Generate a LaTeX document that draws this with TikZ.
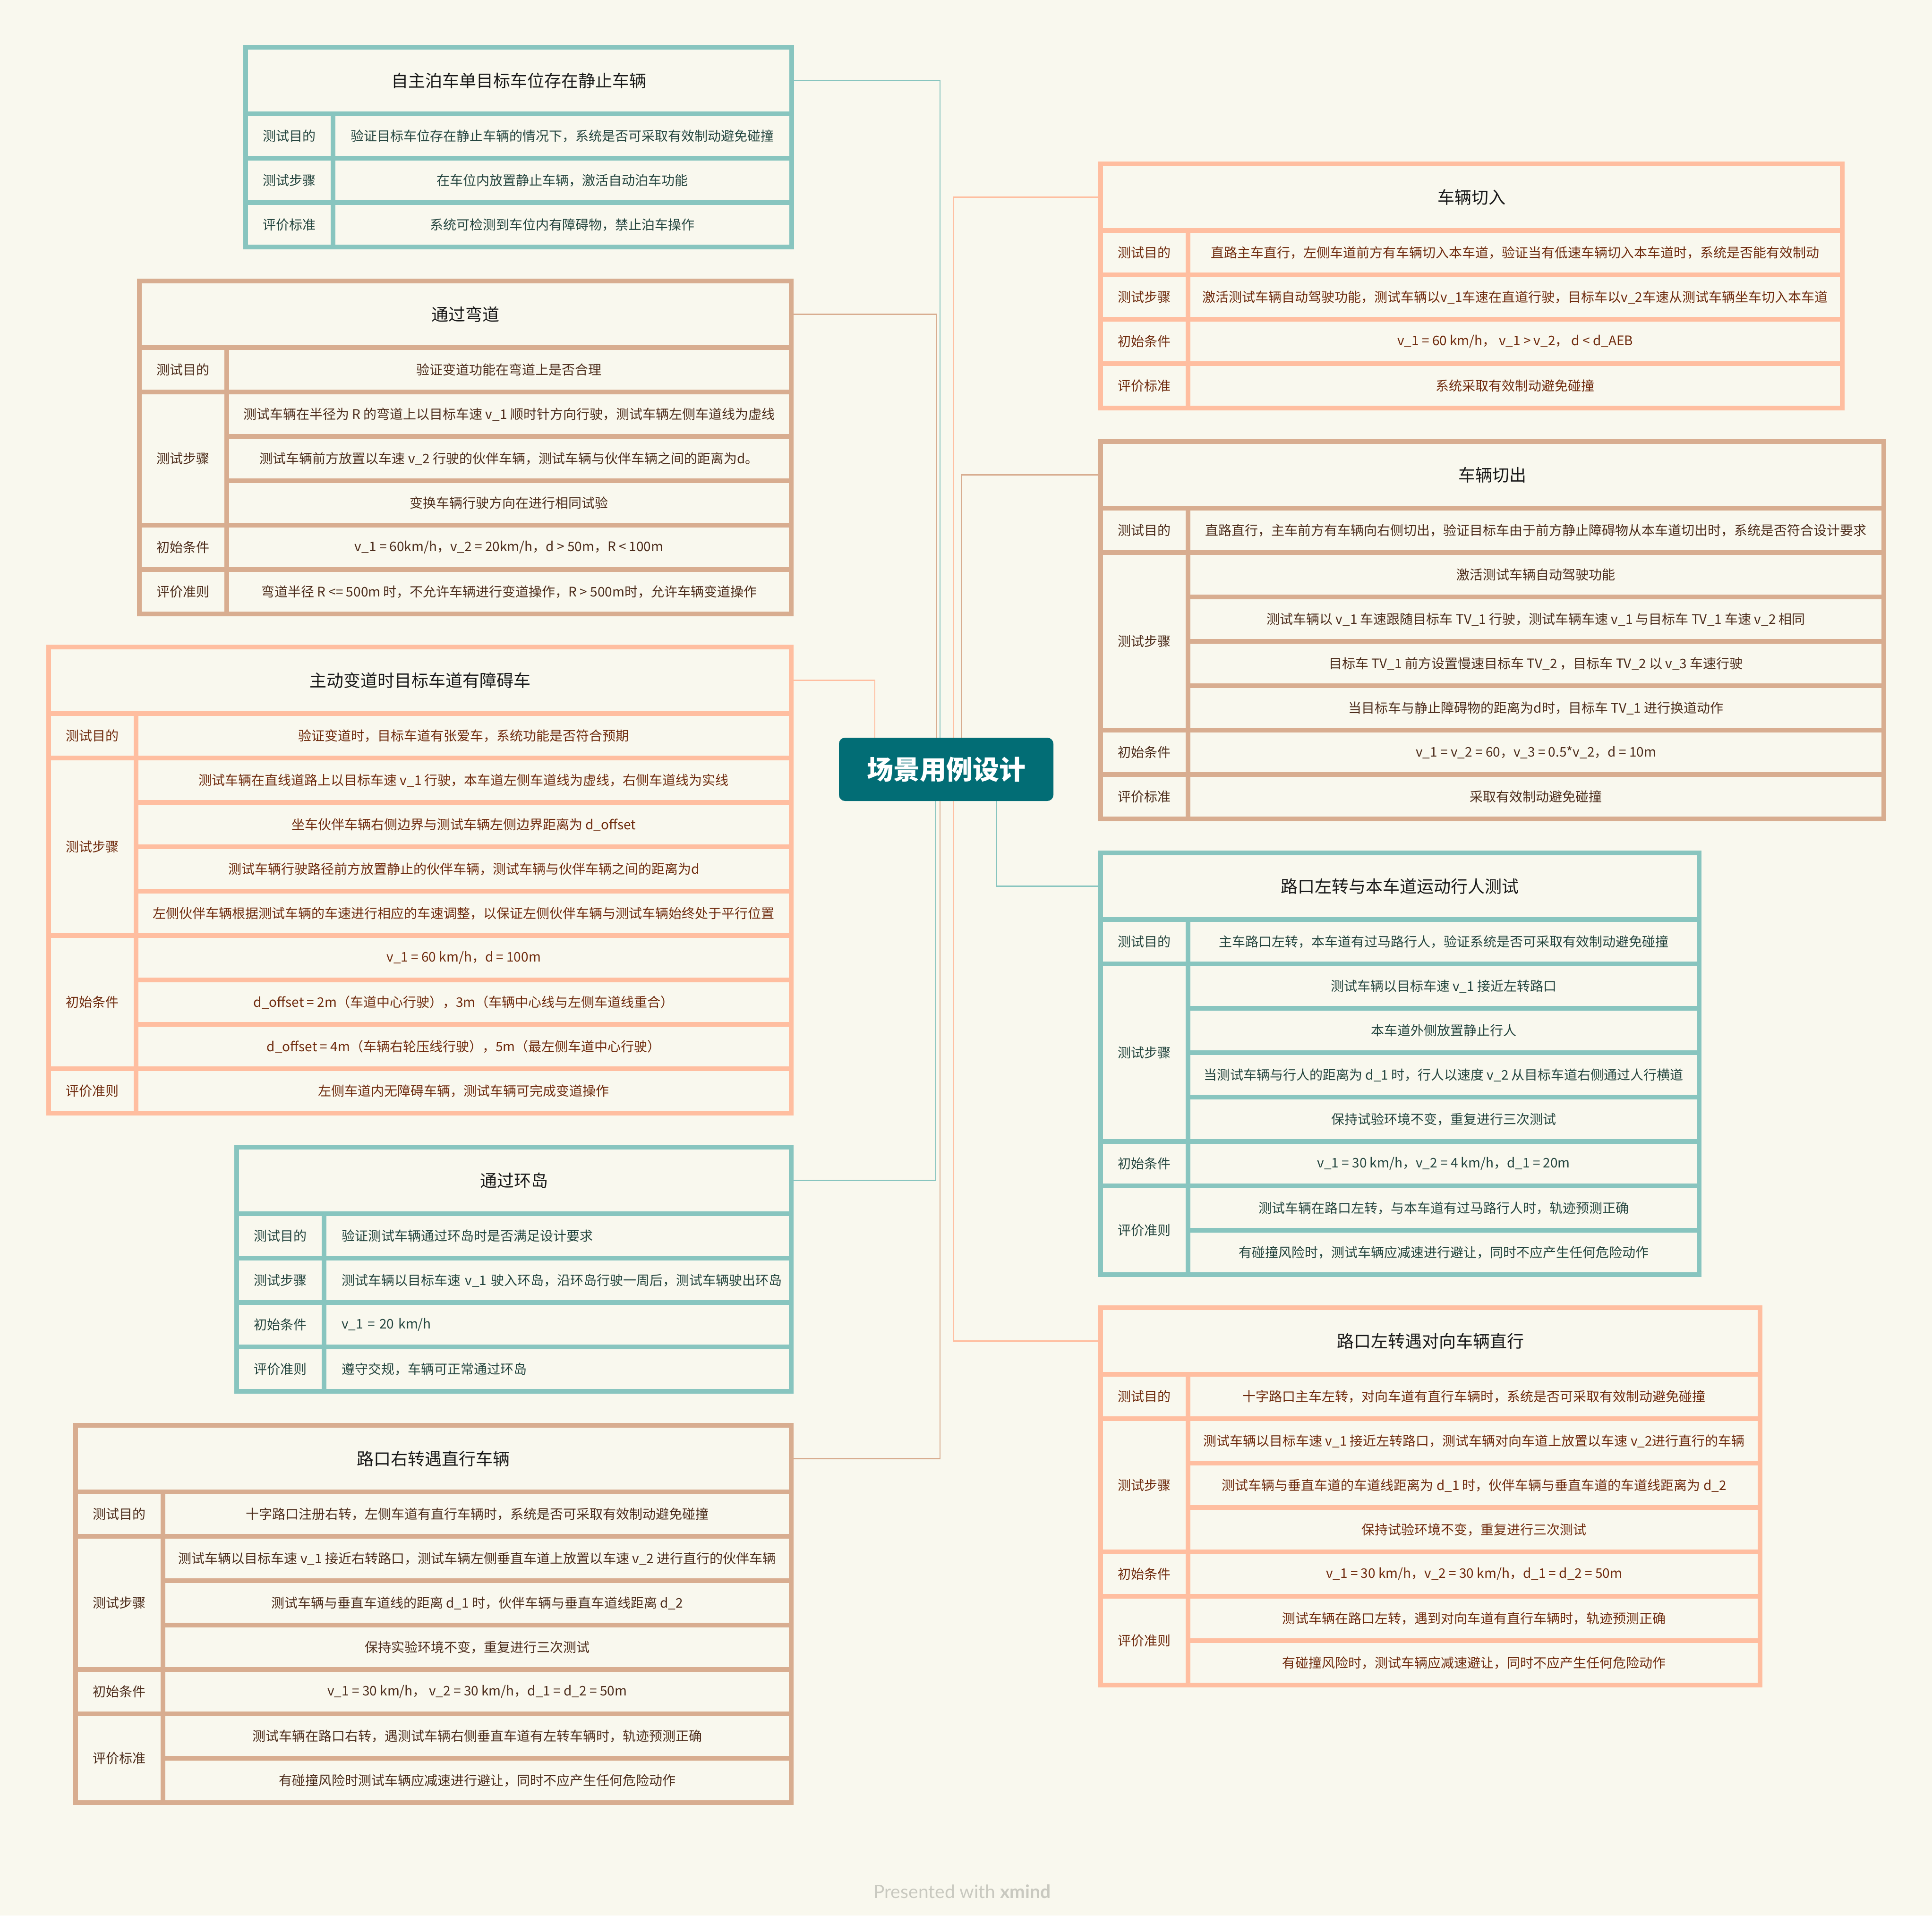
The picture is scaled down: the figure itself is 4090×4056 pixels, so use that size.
\documentclass[tikz,border=0pt]{standalone}
\usepackage{fontspec}
\setmainfont{Noto Sans CJK SC}
\newfontfamily\xmfont{Lato}
\usetikzlibrary{backgrounds}
\definecolor{bgc}{HTML}{F9F8EE}
\definecolor{tealB}{HTML}{88C5BF}
\definecolor{tealT}{HTML}{24453F}
\definecolor{tanB}{HTML}{D8AD90}
\definecolor{tanT}{HTML}{4D2D1C}
\definecolor{salB}{HTML}{FFBEA0}
\definecolor{salT}{HTML}{6F2B0E}
\definecolor{rootC}{HTML}{026D75}
\definecolor{titleC}{HTML}{1A1A1A}
\definecolor{markC}{HTML}{C9C9C0}
\newcommand\cellfont{\fontsize{28}{33}\selectfont}
\newcommand\titlefont{\fontsize{36}{42}\selectfont}
\tikzset{
  cell/.style={fill=bgc, inner sep=0pt, anchor=north west, font=\cellfont, align=center},
  frame/.style={inner sep=0pt, anchor=north west},
  link/.style={line width=2.5pt},
}
\newcommand\tstart[6]{%
  \def\tabname{#1}\def\tabx{#2}\def\taby{#3}\def\tabw{#4}\def\tabcol{#6}%
  \pgfmathsetmacro\tabh{151+94*#5}%
  \node[frame, fill=#6B, minimum width=#4pt, minimum height=\tabh pt] (#1) at (#2,#3) {};
}
\newcommand\ttitle[1]{%
  \pgfmathsetmacro\tabcw{\tabw-20}%
  \node[cell, font=\titlefont, text=titleC, minimum width=\tabcw pt, minimum height=131pt] (\tabname-t) at (\tabx+10,\taby+10) {#1};
}
\newcommand\tlabel[4]{%
  \pgfmathsetmacro\tablh{94*#3-10}%
  \node[cell, text=\tabcol T, minimum width=175pt, minimum height=\tablh pt] (\tabname-#1) at (\tabx+10,\taby+151+94*#2) {#4};
}
\newcommand\trow[3]{%
  \pgfmathsetmacro\tabrw{\tabw-205}%
  \node[cell, text=\tabcol T, minimum width=\tabrw pt, minimum height=84pt] (\tabname-#1) at (\tabx+195,\taby+151+94*#2) {#3};
}
\newcommand\trowL[3]{%
  \pgfmathsetmacro\tabrw{\tabw-205-64}%
  \node[cell, text=\tabcol T, text width=\tabrw pt, inner xsep=32pt, align=left, minimum height=84pt] (\tabname-#1) at (\tabx+195,\taby+151+94*#2) {#3};
}
\begin{document}
\begin{tikzpicture}[x=1pt,y=-1pt]
\useasboundingbox (0,0) rectangle (4090,4056);

% central node
\node[fill=rootC, rounded corners=13pt, minimum width=454pt, minimum height=134pt, inner sep=0pt, text=white, font=\fontsize{56}{64}\selectfont\bfseries] (root) at (2003,1629) {场景用例设计};

% T1
\tstart{T1}{515}{95}{1166}{3}{teal}
\ttitle{自主泊车单目标车位存在静止车辆}
\tlabel{l1}{0}{1}{测试目的}\trow{r1}{0}{验证目标车位存在静止车辆的情况下，系统是否可采取有效制动避免碰撞}
\tlabel{l2}{1}{1}{测试步骤}\trow{r2}{1}{在车位内放置静止车辆，激活自动泊车功能}
\tlabel{l3}{2}{1}{评价标准}\trow{r3}{2}{系统可检测到车位内有障碍物，禁止泊车操作}

% T2
\tstart{T2}{290}{590}{1390}{6}{tan}
\ttitle{通过弯道}
\tlabel{l1}{0}{1}{测试目的}\trow{r1}{0}{验证变道功能在弯道上是否合理}
\tlabel{l2}{1}{3}{测试步骤}
\trow{r2}{1}{测试车辆在半径为 R 的弯道上以目标车速 v\_1 顺时针方向行驶，测试车辆左侧车道线为虚线}
\trow{r3}{2}{测试车辆前方放置以车速 v\_2 行驶的伙伴车辆，测试车辆与伙伴车辆之间的距离为d。}
\trow{r4}{3}{变换车辆行驶方向在进行相同试验}
\tlabel{l3}{4}{1}{初始条件}\trow{r5}{4}{v\_1 = 60km/h，v\_2 = 20km/h，d > 50m，R < 100m}
\tlabel{l4}{5}{1}{评价准则}\trow{r6}{5}{弯道半径 R <= 500m 时，不允许车辆进行变道操作，R > 500m时，允许车辆变道操作}

% T3
\tstart{T3}{98}{1365}{1582}{9}{sal}
\ttitle{主动变道时目标车道有障碍车}
\tlabel{l1}{0}{1}{测试目的}\trow{r1}{0}{验证变道时，目标车道有张爱车，系统功能是否符合预期}
\tlabel{l2}{1}{4}{测试步骤}
\trow{r2}{1}{测试车辆在直线道路上以目标车速 v\_1 行驶，本车道左侧车道线为虚线，右侧车道线为实线}
\trow{r3}{2}{坐车伙伴车辆右侧边界与测试车辆左侧边界距离为 d\_offset}
\trow{r4}{3}{测试车辆行驶路径前方放置静止的伙伴车辆，测试车辆与伙伴车辆之间的距离为d}
\trow{r5}{4}{左侧伙伴车辆根据测试车辆的车速进行相应的车速调整，以保证左侧伙伴车辆与测试车辆始终处于平行位置}
\tlabel{l3}{5}{3}{初始条件}
\trow{r6}{5}{v\_1 = 60 km/h，d = 100m}
\trow{r7}{6}{d\_offset = 2m（车道中心行驶），3m（车辆中心线与左侧车道线重合）}
\trow{r8}{7}{d\_offset = 4m（车辆右轮压线行驶），5m（最左侧车道中心行驶）}
\tlabel{l4}{8}{1}{评价准则}\trow{r9}{8}{左侧车道内无障碍车辆，测试车辆可完成变道操作}

% T4
\tstart{T4}{496}{2424}{1184}{4}{teal}
\ttitle{通过环岛}
\tlabel{l1}{0}{1}{测试目的}\trowL{r1}{0}{验证测试车辆通过环岛时是否满足设计要求}
\tlabel{l2}{1}{1}{测试步骤}\trowL{r2}{1}{测试车辆以目标车速 v\_1 驶入环岛，沿环岛行驶一周后，测试车辆驶出环岛}
\tlabel{l3}{2}{1}{初始条件}\trowL{r3}{2}{v\_1 = 20 km/h}
\tlabel{l4}{3}{1}{评价准则}\trowL{r4}{3}{遵守交规，车辆可正常通过环岛}

% T5
\tstart{T5}{155}{3013}{1525}{7}{tan}
\ttitle{路口右转遇直行车辆}
\tlabel{l1}{0}{1}{测试目的}\trow{r1}{0}{十字路口注册右转，左侧车道有直行车辆时，系统是否可采取有效制动避免碰撞}
\tlabel{l2}{1}{3}{测试步骤}
\trow{r2}{1}{测试车辆以目标车速 v\_1 接近右转路口，测试车辆左侧垂直车道上放置以车速 v\_2 进行直行的伙伴车辆}
\trow{r3}{2}{测试车辆与垂直车道线的距离 d\_1 时，伙伴车辆与垂直车道线距离 d\_2}
\trow{r4}{3}{保持实验环境不变，重复进行三次测试}
\tlabel{l3}{4}{1}{初始条件}\trow{r5}{4}{v\_1 = 30 km/h， v\_2 = 30 km/h，d\_1 = d\_2 = 50m}
\tlabel{l4}{5}{2}{评价标准}
\trow{r6}{5}{测试车辆在路口右转，遇测试车辆右侧垂直车道有左转车辆时，轨迹预测正确}
\trow{r7}{6}{有碰撞风险时测试车辆应减速进行避让，同时不应产生任何危险动作}

% T6
\tstart{T6}{2325}{342}{1580}{4}{sal}
\ttitle{车辆切入}
\tlabel{l1}{0}{1}{测试目的}\trow{r1}{0}{直路主车直行，左侧车道前方有车辆切入本车道，验证当有低速车辆切入本车道时，系统是否能有效制动}
\tlabel{l2}{1}{1}{测试步骤}\trow{r2}{1}{激活测试车辆自动驾驶功能，测试车辆以v\_1车速在直道行驶，目标车以v\_2车速从测试车辆坐车切入本车道}
\tlabel{l3}{2}{1}{初始条件}\trow{r3}{2}{v\_1 = 60 km/h，\ v\_1 > v\_2，\ d < d\_AEB}
\tlabel{l4}{3}{1}{评价标准}\trow{r4}{3}{系统采取有效制动避免碰撞}

% T7
\tstart{T7}{2325}{930}{1668}{7}{tan}
\ttitle{车辆切出}
\tlabel{l1}{0}{1}{测试目的}\trow{r1}{0}{直路直行，主车前方有车辆向右侧切出，验证目标车由于前方静止障碍物从本车道切出时，系统是否符合设计要求}
\tlabel{l2}{1}{4}{测试步骤}
\trow{r2}{1}{激活测试车辆自动驾驶功能}
\trow{r3}{2}{测试车辆以 v\_1 车速跟随目标车 TV\_1 行驶，测试车辆车速 v\_1 与目标车 TV\_1 车速 v\_2 相同}
\trow{r4}{3}{目标车 TV\_1 前方设置慢速目标车 TV\_2 ，目标车 TV\_2 以 v\_3 车速行驶}
\trow{r5}{4}{当目标车与静止障碍物的距离为d时，目标车 TV\_1 进行换道动作}
\tlabel{l3}{5}{1}{初始条件}\trow{r6}{5}{v\_1 = v\_2 = 60，v\_3 = 0.5*v\_2，d = 10m}
\tlabel{l4}{6}{1}{评价标准}\trow{r7}{6}{采取有效制动避免碰撞}

% T8
\tstart{T8}{2325}{1801}{1277}{8}{teal}
\ttitle{路口左转与本车道运动行人测试}
\tlabel{l1}{0}{1}{测试目的}\trow{r1}{0}{主车路口左转，本车道有过马路行人，验证系统是否可采取有效制动避免碰撞}
\tlabel{l2}{1}{4}{测试步骤}
\trow{r2}{1}{测试车辆以目标车速 v\_1 接近左转路口}
\trow{r3}{2}{本车道外侧放置静止行人}
\trow{r4}{3}{当测试车辆与行人的距离为 d\_1 时，行人以速度 v\_2 从目标车道右侧通过人行横道}
\trow{r5}{4}{保持试验环境不变，重复进行三次测试}
\tlabel{l3}{5}{1}{初始条件}\trow{r6}{5}{v\_1 = 30 km/h，v\_2 = 4 km/h，d\_1 = 20m}
\tlabel{l4}{6}{2}{评价准则}
\trow{r7}{6}{测试车辆在路口左转，与本车道有过马路行人时，轨迹预测正确}
\trow{r8}{7}{有碰撞风险时，测试车辆应减速进行避让，同时不应产生任何危险动作}

% T9
\tstart{T9}{2325}{2764}{1406}{7}{sal}
\ttitle{路口左转遇对向车辆直行}
\tlabel{l1}{0}{1}{测试目的}\trow{r1}{0}{十字路口主车左转，对向车道有直行车辆时，系统是否可采取有效制动避免碰撞}
\tlabel{l2}{1}{3}{测试步骤}
\trow{r2}{1}{测试车辆以目标车速 v\_1 接近左转路口，测试车辆对向车道上放置以车速 v\_2进行直行的车辆}
\trow{r3}{2}{测试车辆与垂直车道的车道线距离为 d\_1 时，伙伴车辆与垂直车道的车道线距离为 d\_2}
\trow{r4}{3}{保持试验环境不变，重复进行三次测试}
\tlabel{l3}{4}{1}{初始条件}\trow{r5}{4}{v\_1 = 30 km/h，v\_2 = 30 km/h，d\_1 = d\_2 = 50m}
\tlabel{l4}{5}{2}{评价准则}
\trow{r6}{5}{测试车辆在路口左转，遇到对向车道有直行车辆时，轨迹预测正确}
\trow{r7}{6}{有碰撞风险时，测试车辆应减速避让，同时不应产生任何危险动作}

% watermark
\node[font=\xmfont\fontsize{39}{44}\selectfont, text=markC, anchor=base, inner sep=0pt] (mark) at (2037,4019) {Presented with {\bfseries xmind}};

\begin{pgfonlayer}{background}
\fill[bgc] (0,0) rectangle (4090,4056);
\coordinate (k1) at (1990,0);
\coordinate (k2) at (1983,0);
\coordinate (k3) at (1852,0);
\coordinate (k4) at (1981,0);
\coordinate (k5) at (1990,0);
\coordinate (k6) at (2018,0);
\coordinate (k7) at (2035,0);
\coordinate (k8) at (2110,0);
\coordinate (k9) at (2018,0);
\draw[link, tealB] (root.north -| k1) |- (T1-t.east -| T1.east);
\draw[link, tanB] (root.north -| k2) |- (T2-t.east -| T2.east);
\draw[link, salB] (root.north -| k3) |- (T3-t.east -| T3.east);
\draw[link, tealB] (root.south -| k4) |- (T4-t.east -| T4.east);
\draw[link, tanB] (root.south -| k5) |- (T5-t.east -| T5.east);
\draw[link, salB] (root.north -| k6) |- (T6-t.west -| T6.west);
\draw[link, tanB] (root.north -| k7) |- (T7-t.west -| T7.west);
\draw[link, tealB] (root.south -| k8) |- (T8-t.west -| T8.west);
\draw[link, salB] (root.south -| k9) |- (T9-t.west -| T9.west);
\end{pgfonlayer}
\end{tikzpicture}
\end{document}
